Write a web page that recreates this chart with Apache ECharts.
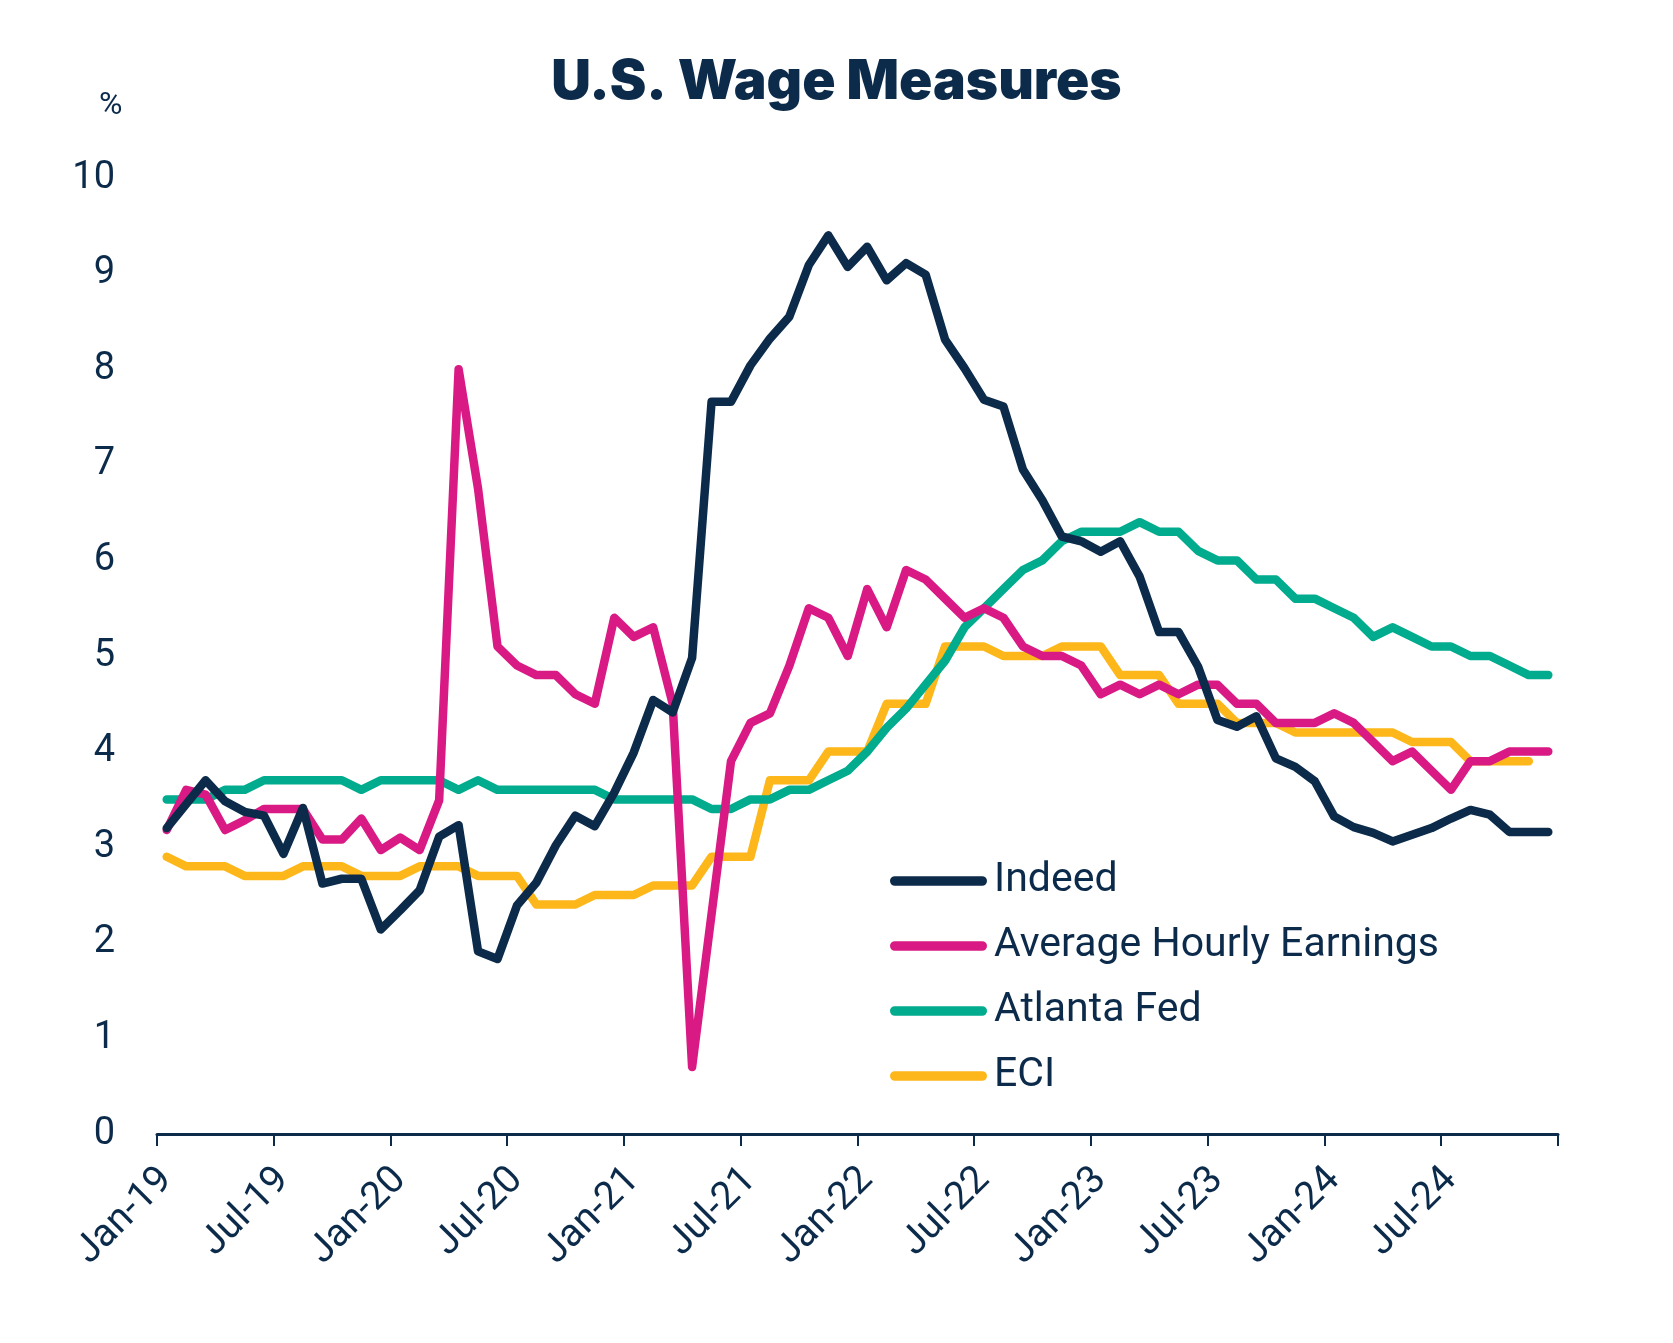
<!DOCTYPE html>
<html>
<head>
<meta charset="utf-8">
<script src="https://cdn.jsdelivr.net/npm/echarts@6/dist/echarts.min.js"></script>
<style>
html,body{margin:0;padding:0;background:#fff;}
#chart{width:1673px;height:1343px;}
</style>
</head>
<body>
<div id="chart"></div>
<script>
// Monthly categories Jan-19 .. Dec-24
const monthNames = ['Jan','Feb','Mar','Apr','May','Jun','Jul','Aug','Sep','Oct','Nov','Dec'];
const years = ['19','20','21','22','23','24'];
const categories = [];
years.forEach(y => monthNames.forEach(m => categories.push(m + '-' + y)));

const yTicks = [0,1,2,3,4,5,6,7,8,9,10];

const indeed = [3.2,3.45,3.7,3.48,3.37,3.33,2.93,3.41,2.62,2.67,2.67,2.14,
  2.34,2.55,3.11,3.23,1.91,1.83,2.39,2.63,3.02,3.33,3.22,3.57,
  3.99,4.54,4.41,4.98,7.66,7.66,8.04,8.32,8.55,9.09,9.40,9.07,
  9.28,8.93,9.11,8.99,8.31,8.01,7.68,7.61,6.95,6.63,6.25,6.20,
  6.09,6.20,5.83,5.25,5.25,4.89,4.33,4.26,4.37,3.93,3.84,3.69,
  3.32,3.21,3.15,3.06,3.13,3.20,3.30,3.39,3.34,3.16,3.16,3.16];

const ahe = [3.18,3.6,3.55,3.18,3.28,3.4,3.4,3.4,3.08,3.08,3.3,2.97,
  3.1,2.97,3.49,8.0,6.75,5.1,4.9,4.8,4.8,4.6,4.5,5.4,
  5.2,5.3,4.5,0.7,2.3,3.9,4.3,4.4,4.9,5.5,5.4,5.0,
  5.7,5.3,5.9,5.8,5.6,5.4,5.5,5.4,5.1,5.0,5.0,4.9,
  4.6,4.7,4.6,4.7,4.6,4.7,4.7,4.5,4.5,4.3,4.3,4.3,
  4.4,4.3,4.1,3.9,4.0,3.8,3.6,3.9,3.9,4.0,4.0,4.0];

const atlantaFed = [3.5,3.5,3.5,3.6,3.6,3.7,3.7,3.7,3.7,3.7,3.6,3.7,
  3.7,3.7,3.7,3.6,3.7,3.6,3.6,3.6,3.6,3.6,3.6,3.5,
  3.5,3.5,3.5,3.5,3.4,3.4,3.5,3.5,3.6,3.6,3.7,3.8,
  4.0,4.25,4.45,4.7,4.95,5.3,5.5,5.7,5.9,6.0,6.2,6.3,
  6.3,6.3,6.4,6.3,6.3,6.1,6.0,6.0,5.8,5.8,5.6,5.6,
  5.5,5.4,5.2,5.3,5.2,5.1,5.1,5.0,5.0,4.9,4.8,4.8];

const eci = [2.9,2.8,2.8,2.8,2.7,2.7,2.7,2.8,2.8,2.8,2.7,2.7,
  2.7,2.8,2.8,2.8,2.7,2.7,2.7,2.4,2.4,2.4,2.5,2.5,
  2.5,2.6,2.6,2.6,2.9,2.9,2.9,3.7,3.7,3.7,4.0,4.0,
  4.0,4.5,4.5,4.5,5.1,5.1,5.1,5.0,5.0,5.0,5.1,5.1,
  5.1,4.8,4.8,4.8,4.5,4.5,4.5,4.3,4.3,4.3,4.2,4.2,
  4.2,4.2,4.2,4.2,4.1,4.1,4.1,3.9,3.9,3.9,3.9,null];

const seriesNames = ['Indeed','Average Hourly Earnings','Atlanta Fed','ECI'];
const seriesData = [indeed, ahe, atlantaFed, eci];
const colors = ['#0c2b4b','#d91a85','#00ab8e','#fdb71a'];
const navy = '#0c2b4b';

const chart = echarts.init(document.getElementById('chart'));
chart.setOption({
  animation: false,
  backgroundColor: '#ffffff',
  title: {
    text: 'U.S. Wage Measures',
    left: 'center',
    top: 50,
    textStyle: {fontFamily: 'Inter', fontWeight: 900, fontSize: 55, color: navy}
  },
  graphic: [{
    type: 'text', left: 99, top: 90,
    style: {text: '%', fontFamily: 'Roboto', fontSize: 32, fill: navy}
  }],
  legend: {
    orient: 'vertical',
    left: 885,
    top: 855,
    itemWidth: 97,
    itemHeight: 10,
    itemGap: 23,
    icon: 'path://M5,0 H95 A5,5 0 0 1 95,10 H5 A5,5 0 0 1 5,0 Z',
    textStyle: {fontFamily: 'Roboto', fontSize: 41, lineHeight: 42, color: navy, padding: [0,0,0,2]},
    data: seriesNames
  },
  grid: {left: 157, right: 115, top: 178, bottom: 209, containLabel: false},
  xAxis: {
    type: 'category',
    data: categories,
    boundaryGap: true,
    axisLine: {lineStyle: {color: navy, width: 3}},
    axisTick: {show: true, interval: 5, length: 12, lineStyle: {color: navy, width: 2}},
    axisLabel: {interval: 5, rotate: 45, margin: 40, fontFamily: 'Roboto', fontSize: 39, color: navy},
    splitLine: {show: false}
  },
  yAxis: {
    type: 'value',
    min: yTicks[0],
    max: yTicks[yTicks.length - 1],
    interval: 1,
    axisLine: {show: false},
    axisTick: {show: false},
    splitLine: {show: false},
    axisLabel: {margin: 42, fontFamily: 'Roboto', fontSize: 38, color: navy}
  },
  series: seriesNames.map((n, k) => ({
    name: n,
    type: 'line',
    data: seriesData[k],
    symbol: 'none',
    connectNulls: false,
    color: colors[k],
    lineStyle: {width: 8.5, color: colors[k], cap: 'round', join: 'round'},
    z: 10 - k
  }))
});
</script>
</body>
</html>
